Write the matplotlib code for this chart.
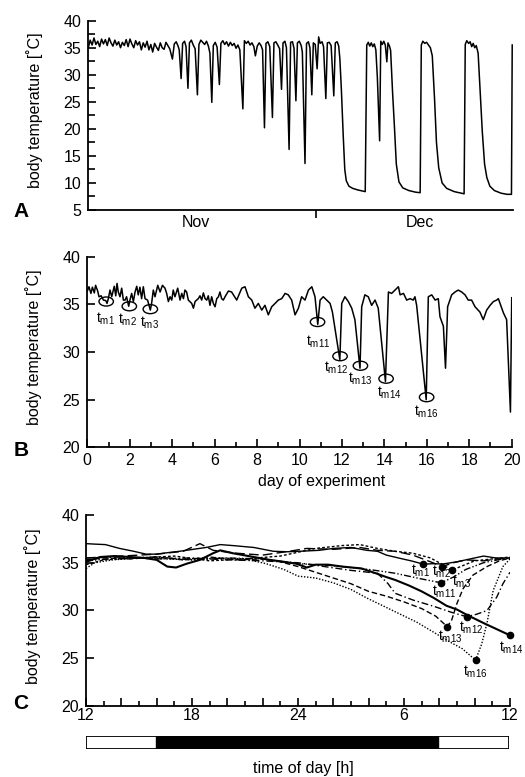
import numpy as np
import matplotlib
matplotlib.use('Agg')
import matplotlib.pyplot as plt
from matplotlib.patches import Ellipse, Rectangle
from matplotlib.ticker import MultipleLocator, FixedLocator, FuncFormatter

plt.rcParams.update({
    'font.family': ['Liberation Sans', 'DejaVu Sans'],
    'font.size': 11.5,
    'mathtext.fontset': 'custom',
    'mathtext.rm': 'Liberation Sans',
    'axes.linewidth': 1.3,
})

# ---- panel A: whole record, days counted from Nov 1 ----
a_day = [0.0, 0.25, 0.5, 0.75, 1.0, 1.25, 1.5, 1.75, 2.0, 2.25, 2.5, 2.75, 3.0, 3.25,
         3.5, 3.75, 4.0, 4.25, 4.5, 4.75, 5.0, 5.25, 5.5, 5.75, 6.0, 6.25, 6.5, 6.75,
         7.0, 7.25, 7.5, 7.75, 8.0, 8.25, 8.5, 8.75, 9.0, 9.25, 9.5, 9.75, 10.0, 10.25,
         10.5, 10.75, 11.1, 11.35, 11.6, 11.85, 12.0, 12.25, 12.45, 12.7, 12.9, 13.15,
         13.35, 13.6, 13.85, 14.1, 14.4, 14.6, 14.85, 15.1, 15.35, 15.6, 15.85, 16.05,
         16.3, 16.5, 16.75, 17.0, 17.3, 17.5, 17.75, 18.0, 18.25, 18.5, 18.75, 19.0,
         19.25, 19.5, 19.75, 20.0, 20.4, 20.6, 20.85, 21.1, 21.35, 21.6, 21.85, 22.05,
         22.3, 22.55, 22.8, 23.0, 23.25, 23.45, 23.7, 23.95, 24.3, 24.5, 24.75, 25.0,
         25.25, 25.5, 25.7, 25.95, 26.15, 26.5, 26.7, 26.95, 27.15, 27.4, 27.6, 27.85,
         28.1, 28.25, 28.6, 28.8, 29.05, 29.25, 29.5, 29.7, 29.95, 30.2, 30.4, 30.6,
         30.85, 31.05, 31.35, 31.55, 31.8, 32.05, 32.4, 32.6, 32.85, 33.05, 33.2, 33.4,
         33.65, 33.85, 34.05, 34.4, 34.9, 35.6, 36.2, 36.55, 36.75, 36.95, 37.15, 37.35,
         37.55, 37.75, 37.95, 38.15, 38.45, 38.6, 38.8, 39.0, 39.2, 39.4, 39.55, 39.75,
         39.9, 40.15, 40.4, 40.65, 41.0, 41.5, 42.3, 43.2, 43.8, 43.95, 44.15, 44.4,
         44.65, 44.9, 45.15, 45.4, 45.7, 45.95, 46.25, 46.7, 47.3, 48.3, 49.3, 49.6,
         49.75, 49.95, 50.2, 50.4, 50.6, 50.8, 51.0, 51.2, 51.45, 51.75, 52.0, 52.3,
         52.6, 53.0, 53.6, 54.5, 55.3, 55.85, 55.95]
a_temp = [35.0, 36.4, 35.5, 36.8, 35.6, 36.2, 35.2, 36.6, 35.7, 36.5, 35.4, 36.8, 35.9, 35.3,
          36.4, 35.5, 36.1, 35.0, 36.0, 35.4, 36.5, 35.2, 36.6, 35.7, 35.0, 36.3, 35.5, 36.1,
          34.6, 35.9, 35.1, 36.2, 34.6, 35.6, 34.2, 35.8, 35.1, 34.5, 35.9, 35.0, 34.7, 36.0,
          35.4, 34.8, 32.9, 35.7, 36.1, 35.3, 34.6, 29.3, 35.8, 36.2, 35.2, 27.5,
          35.9, 36.4, 35.5, 34.8, 26.3, 35.6, 36.4, 36.0, 35.6, 36.2, 35.3, 34.0,
          24.9, 35.4, 36.0, 35.1, 28.2, 35.8, 36.3, 35.6, 36.1, 35.3, 36.0, 35.4,
          35.8, 34.9, 35.5, 34.6, 23.7, 36.3, 35.8, 36.2, 35.5, 35.9, 35.2, 33.5,
          35.3, 35.9, 35.4, 34.6, 20.2, 35.8, 36.1, 35.2, 22.1, 35.9, 36.1, 35.5,
          34.8, 27.3, 35.9, 36.2, 35.0, 16.2, 36.0, 36.1, 34.9, 25.2, 35.9, 36.2,
          35.4, 34.2, 13.6, 35.8, 36.1, 35.0, 26.3, 35.9, 35.6, 31.1, 37.0, 35.8,
          36.1, 35.2, 25.6, 35.9, 36.0, 35.4, 26.1, 35.9, 36.1, 35.3, 33.0, 27.3,
          18.6, 12.5, 10.4, 9.4, 9.0, 8.7, 8.5, 8.4, 35.5, 36.0, 35.3, 35.9,
          35.2, 35.7, 34.6, 29.5, 17.8, 36.2, 35.6, 36.2, 35.5, 32.4, 35.9, 35.3,
          34.5, 27.0, 20.5, 13.5, 10.2, 9.1, 8.6, 8.3, 8.2, 35.5, 36.2, 35.8,
          36.0, 35.5, 35.0, 33.5, 25.5, 17.5, 12.8, 10.0, 9.0, 8.4, 8.1, 8.0,
          35.6, 36.3, 35.8, 36.1, 35.2, 35.8, 35.0, 35.4, 34.0, 26.0, 19.5, 13.5,
          11.0, 9.4, 8.6, 8.1, 7.9, 7.9, 35.5]
a_month_names = ['Nov', 'Dec']
a_month_centres = [14.2, 43.8]
a_month_break = [30]

# ---- panel B: 20 days of daily torpor ----
b_day = [0.0, 0.08, 0.17, 0.24, 0.33, 0.39, 0.49, 0.55, 0.65, 0.76, 0.87, 0.93, 0.99, 1.07,
         1.15, 1.27, 1.34, 1.4, 1.46, 1.54, 1.62, 1.7, 1.78, 1.85, 1.95, 2.01, 2.09, 2.17,
         2.25, 2.33, 2.4, 2.48, 2.56, 2.64, 2.72, 2.84, 2.97, 3.03, 3.11, 3.19, 3.32, 3.43,
         3.54, 3.66, 3.74, 3.82, 3.9, 3.98, 4.05, 4.13, 4.26, 4.37, 4.45, 4.53, 4.6, 4.68,
         4.76, 4.92, 5.0, 5.08, 5.23, 5.31, 5.39, 5.47, 5.55, 5.63, 5.7, 5.78, 5.86, 5.94,
         6.02, 6.1, 6.18, 6.25, 6.33, 6.41, 6.49, 6.65, 6.8, 7.04, 7.28, 7.43, 7.59, 7.75,
         7.9, 8.06, 8.22, 8.37, 8.53, 8.69, 8.85, 9.0, 9.16, 9.32, 9.47, 9.63, 9.79, 9.95,
         10.1, 10.26, 10.42, 10.58, 10.73, 10.86, 10.97, 11.12, 11.28, 11.44, 11.55, 11.9,
         11.99, 12.14, 12.3, 12.46, 12.61, 12.85, 12.93, 13.08, 13.24, 13.4, 13.56, 13.71,
         14.05, 14.19, 14.34, 14.5, 14.66, 14.74, 14.9, 15.05, 15.21, 15.36, 15.44, 15.52,
         15.97, 16.07, 16.23, 16.39, 16.54, 16.62, 16.78, 16.88, 16.98, 17.17, 17.33, 17.48,
         17.64, 17.8, 17.95, 18.11, 18.27, 18.5, 18.66, 18.82, 18.98, 19.14, 19.29, 19.37,
         19.53, 19.61, 19.76, 19.94, 20.0]
b_temp = [36.4, 36.85, 36.15, 36.8, 36.2, 37.0, 36.4, 35.8, 35.9, 35.45, 35.4, 35.1, 35.6, 36.5,
          35.8, 36.9, 35.9, 37.2, 36.3, 35.8, 36.7, 35.45, 35.45, 35.8, 34.8, 35.45, 36.15, 35.3,
          36.3, 36.9, 36.0, 36.8, 35.6, 36.85, 35.6, 35.45, 34.4, 35.1, 36.5, 35.8, 37.0, 36.3,
          37.0, 36.7, 36.15, 35.3, 35.8, 35.45, 36.5, 35.8, 36.7, 35.45, 36.15, 35.6, 36.5, 36.3,
          35.45, 35.1, 34.6, 35.3, 35.6, 35.9, 35.45, 36.2, 35.6, 35.45, 35.9, 34.9, 35.8, 35.1,
          34.75, 35.6, 35.8, 36.3, 35.6, 35.45, 35.8, 36.4, 36.3, 35.45, 36.7, 36.85, 35.8, 35.45,
          34.6, 35.1, 34.4, 34.9, 33.9, 34.75, 35.1, 35.45, 35.6, 36.15, 36.0, 35.45, 33.9, 34.6,
          35.8, 35.45, 36.5, 36.85, 35.8, 32.9, 35.45, 35.8, 35.45, 35.1, 34.2, 29.2,
          35.1, 35.8, 35.3, 34.6, 33.4, 28.3, 34.75, 36.0, 35.8, 34.9, 35.45, 34.6,
          26.9, 36.3, 36.15, 36.5, 36.85, 36.0, 36.15, 35.45, 35.6, 35.45, 35.8, 34.9,
          25.0, 35.8, 36.0, 35.45, 35.6, 33.7, 32.7, 28.3, 34.75, 36.0, 36.3, 36.5,
          36.3, 36.0, 35.45, 35.45, 34.75, 34.2, 33.4, 34.4, 34.9, 35.3, 35.45, 35.6,
          34.6, 34.1, 33.4, 23.7, 35.7]
# circled torpor minima
b_tm_names = ['m1', 'm2', 'm3', 'm11', 'm12', 'm13', 'm14', 'm16']
b_tm_day = [0.89, 1.98, 2.97, 10.85, 11.91, 12.87, 14.08, 15.99]
b_tm_temp = [35.3, 34.8, 34.5, 33.15, 29.56, 28.56, 27.2, 25.26]

# ---- panel C: the eight days aligned on time of day (h, 12 = noon) ----
c_h = {
    'm1': [12, 12.5, 13.1, 13.9, 14.7, 15.4, 16.0, 16.6, 17.3, 18.05, 18.8, 19.6, 20.3, 21.5,
           22.6, 23.4, 24.1, 25.2, 26.0, 27.0, 27.9, 28.5, 29.0, 29.8, 30.4, 31.1, 31.6, 32.2,
           33.0, 33.5, 34.5, 35.2, 36.0],
    'm2': [12, 14, 16, 17.5, 18.45, 19.2, 20.5, 22, 23.5, 24.5, 26, 27.5, 28.5, 29.5, 30.5,
           31.5, 32.17, 32.8, 33.5, 34.5, 35.3, 36],
    'm3': [12, 13, 15, 17, 19, 21, 23, 25, 26.5, 27.5, 28.5, 29.5, 30.5, 31.5, 32.2, 32.7,
           33.2, 34, 35, 36],
    'm11': [12, 14, 16, 18, 20, 22, 24, 26, 28, 29.5, 31, 32.1, 32.8, 33.5, 34.5, 35.3, 36],
    'm12': [12, 14, 16, 18, 20, 22, 24, 25.5, 27, 28.5, 29.1, 29.5, 30.5, 31.75, 32.7, 33.55,
            34.1, 34.7, 35.25, 35.6, 36.0],
    'm13': [12, 13, 14.5, 16, 17.5, 19, 20.5, 22, 23, 24, 25, 26, 27, 28, 29, 30, 31, 31.8,
            32.45, 32.7, 33.0, 33.35, 33.9, 34.7, 35.4, 36.0],
    'm14': [12, 12.8, 13.6, 14.5, 15.3, 16.0, 16.6, 17.1, 17.7, 18.45, 19.2, 19.6, 20.3, 21.5,
            22.4, 23.2, 23.9, 24.5, 25.0, 25.7, 26.5, 27.6, 28.4, 29.0, 29.5, 30.3, 31.0, 31.7,
            32.4, 33.0, 33.6, 34.6, 35.3, 36.0],
    'm16': [12, 12.5, 13.5, 15.0, 16.5, 18.0, 19.5, 21.0, 22.2, 23.2, 24.0, 25.0, 26.0, 27.0,
            27.9, 28.8, 29.8, 30.7, 31.7, 32.6, 33.3, 34.05, 34.4, 34.7, 35.05, 35.6, 36.0],
}
c_t = {
    'm1': [37.0, 36.95, 36.9, 36.5, 36.2, 35.9, 35.9, 36.05, 36.2, 36.4, 36.6, 36.9, 36.8, 36.6,
           36.2, 36.15, 36.2, 36.3, 36.5, 36.6, 36.3, 36.2, 35.8, 35.45, 35.2, 34.85, 34.9, 34.87,
           35.1, 35.3, 35.7, 35.5, 35.5],
    'm2': [35.5, 35.7, 35.9, 36.2, 37.0, 36.3, 36.0, 35.8, 36.2, 36.5, 36.4, 36.6, 36.3, 36.2,
           35.8, 35.1, 34.6, 35.0, 35.3, 35.2, 35.4, 35.5],
    'm3': [34.8, 35.3, 35.5, 35.7, 35.2, 35.4, 35.7, 36.5, 36.8, 36.9, 36.5, 36.2, 36.0, 35.5,
           34.8, 34.2, 34.6, 35.2, 35.4, 35.6],
    'm11': [35.2, 35.5, 35.6, 35.3, 35.5, 35.4, 34.9, 34.7, 34.3, 33.9, 33.3, 32.9, 33.5, 34.3,
            35.0, 35.3, 35.5],
    'm12': [35.5, 35.6, 35.4, 35.5, 35.3, 35.2, 35.0, 34.6, 34.2, 33.9, 32.8, 31.8, 31.1, 30.4,
            29.8, 29.35, 29.6, 30.0, 31.4, 32.8, 34.0],
    'm13': [35.3, 35.5, 35.4, 35.6, 35.3, 35.6, 35.3, 35.4, 35.1, 34.6, 34.0, 33.4, 32.8, 32.0,
            31.5, 30.9, 30.2, 29.4, 28.3, 29.0, 30.75, 32.3, 33.7, 34.6, 35.2, 35.5],
    'm14': [35.1, 35.6, 35.7, 35.6, 35.5, 35.3, 34.6, 34.5, 34.9, 35.3, 36.0, 36.3, 36.0, 35.6,
            35.3, 35.1, 34.9, 34.5, 34.8, 34.8, 34.6, 34.4, 33.9, 33.5, 33.2, 32.6, 32.0, 31.3,
            30.5, 30.1, 29.5, 28.6, 28.0, 27.4],
    'm16': [34.4, 35.0, 35.3, 35.5, 35.4, 35.3, 35.5, 35.4, 34.9, 34.3, 33.6, 33.4, 32.9, 32.2,
            31.3, 30.5, 29.6, 28.8, 27.7, 26.7, 26.0, 24.8, 26.5, 28.7, 32.1, 34.6, 35.4],
}
c_names = ['m1', 'm2', 'm3', 'm11', 'm12', 'm13', 'm14', 'm16']
dark_start, dark_end = 16, 32

# line styles for panel C and label offsets (px right, px down)
c_styles = {'m1': ('-', 1.0), 'm2': ((0, (7, 3)), 1.0), 'm3': ((0, (2, 1.5)), 1.0),
            'm11': ((0, (5, 1.5, 1, 1.5, 1, 1.5)), 1.0), 'm12': ((0, (5, 2, 1, 2)), 1.0),
            'm13': ((0, (4, 2)), 1.0), 'm14': ('-', 1.5), 'm16': ((0, (1, 1.2)), 1.0)}
c_offsets = {'m1': (-3, 6.5), 'm2': (-0.5, 5), 'm3': (10, 11), 'm11': (3, 9),
             'm12': (4, 11.5), 'm13': (2.5, 10.5), 'm14': (1.5, 12.5), 'm16': (0, 11.5)}
b_offsets = {'m1': (-1, 12.5), 'm2': (-2, 9), 'm3': (-1, 9), 'm11': (1, 15),
             'm12': (-4, 7), 'm13': (0, 8), 'm14': (3, 9), 'm16': (0, 10)}

YLABEL = 'body temperature [˚C]'
PX = 0.72  # points per pixel at dpi 100


def tm_label(name):
    return r'$\mathrm{t}_{\mathrm{' + name + '}}$'


def style_axis(ax):
    for s in ['top', 'right']:
        ax.spines[s].set_visible(False)
    ax.tick_params(which='both', direction='in', width=1.2, labelsize=11.5)
    ax.tick_params(which='major', length=6)
    ax.tick_params(which='minor', length=3.5)
    ax.set_ylabel(YLABEL, fontsize=11.5)
    ax.yaxis.set_label_coords(-0.107, 0.525)


fig = plt.figure(figsize=(5.25, 7.77), dpi=100)

# Panel A
axA = fig.add_axes([0.1682, 0.7297, 0.8089, 0.2437])
axA.plot(a_day, a_temp, color='black', lw=1.1)
axA.set_xlim(0, 56.05)
axA.set_ylim(5, 40)
style_axis(axA)
axA.yaxis.set_major_locator(MultipleLocator(5))
axA.yaxis.set_minor_locator(MultipleLocator(2.5))
axA.tick_params(axis='y', which='minor', length=5)
axA.tick_params(axis='y', which='major', pad=5)
axA.xaxis.set_major_locator(FixedLocator(a_month_break))
axA.tick_params(axis='x', which='major', direction='out', length=6, labelbottom=False)
for name, pos in zip(a_month_names, a_month_centres):
    axA.text(pos, -0.025, name, transform=axA.get_xaxis_transform(),
             ha='center', va='top', fontsize=11.5)

# Panel B
axB = fig.add_axes([0.1663, 0.4243, 0.8084, 0.2453])
axB.plot(b_day, b_temp, color='black', lw=1.1)
axB.set_xlim(0, 20)
axB.set_ylim(20, 40)
style_axis(axB)
axB.yaxis.set_major_locator(MultipleLocator(5))
axB.xaxis.set_major_locator(MultipleLocator(2))
axB.xaxis.set_minor_locator(MultipleLocator(1))
axB.tick_params(axis='x', pad=4)
axB.tick_params(axis='y', pad=5)
axB.set_xlabel('day of experiment', fontsize=11.5, labelpad=2)
axB.xaxis.set_label_coords(0.551, -0.14)
for name, d, t in zip(b_tm_names, b_tm_day, b_tm_temp):
    axB.add_patch(Ellipse((d, t), 0.68, 0.95, fill=False, lw=1.0, color='black'))
    dx, dy = b_offsets[name]
    axB.annotate(tm_label(name), xy=(d, t), xytext=(dx * PX, -(4.7 + dy) * PX),
                 textcoords='offset points', ha='center', va='center', fontsize=10)

# Panel C
axC = fig.add_axes([0.1638, 0.0914, 0.8076, 0.2458])
for name in c_names:
    ls, lw = c_styles[name]
    axC.plot(c_h[name], c_t[name], color='black', ls=ls, lw=lw)
for name in c_names:
    i = int(np.argmin(c_t[name]))
    h, t = c_h[name][i], c_t[name][i]
    axC.plot([h], [t], 'o', color='black', ms=4.5, clip_on=False, zorder=5)
    dx, dy = c_offsets[name]
    axC.annotate(tm_label(name), xy=(h, t), xytext=(dx * PX, -dy * PX),
                 textcoords='offset points', ha='center', va='center', fontsize=10)
axC.set_xlim(12, 36)
axC.set_ylim(20, 40)
style_axis(axC)
axC.yaxis.set_major_locator(MultipleLocator(5))
axC.xaxis.set_major_locator(MultipleLocator(2))
axC.xaxis.set_minor_locator(MultipleLocator(1))
axC.xaxis.set_major_formatter(FuncFormatter(
    lambda v, p: '' if (v - 12) % 6 else str(int(v if v <= 24 else v - 24))))
axC.tick_params(axis='x', pad=1.5)
axC.tick_params(axis='y', pad=5)

# light/dark bar
axL = fig.add_axes([0.1638, 0.0360, 0.8057, 0.0167])
axL.set_xlim(12, 36)
axL.set_ylim(0, 1)
axL.axis('off')
axL.add_patch(Rectangle((12, 0), 24, 1, facecolor='white', edgecolor='black', lw=1.3))
axL.add_patch(Rectangle((dark_start, 0), dark_end - dark_start, 1,
                        facecolor='black', edgecolor='black', lw=1.0))
fig.text(0.577, 0.0103, 'time of day [h]', ha='center', va='center', fontsize=11.5)

# panel letters
for letter, y in zip(['A', 'B', 'C'], [0.7284, 0.4196, 0.094]):
    fig.text(0.04, y, letter, fontsize=15, fontweight='bold', ha='center', va='center')

plt.savefig('out.png', dpi=100)
